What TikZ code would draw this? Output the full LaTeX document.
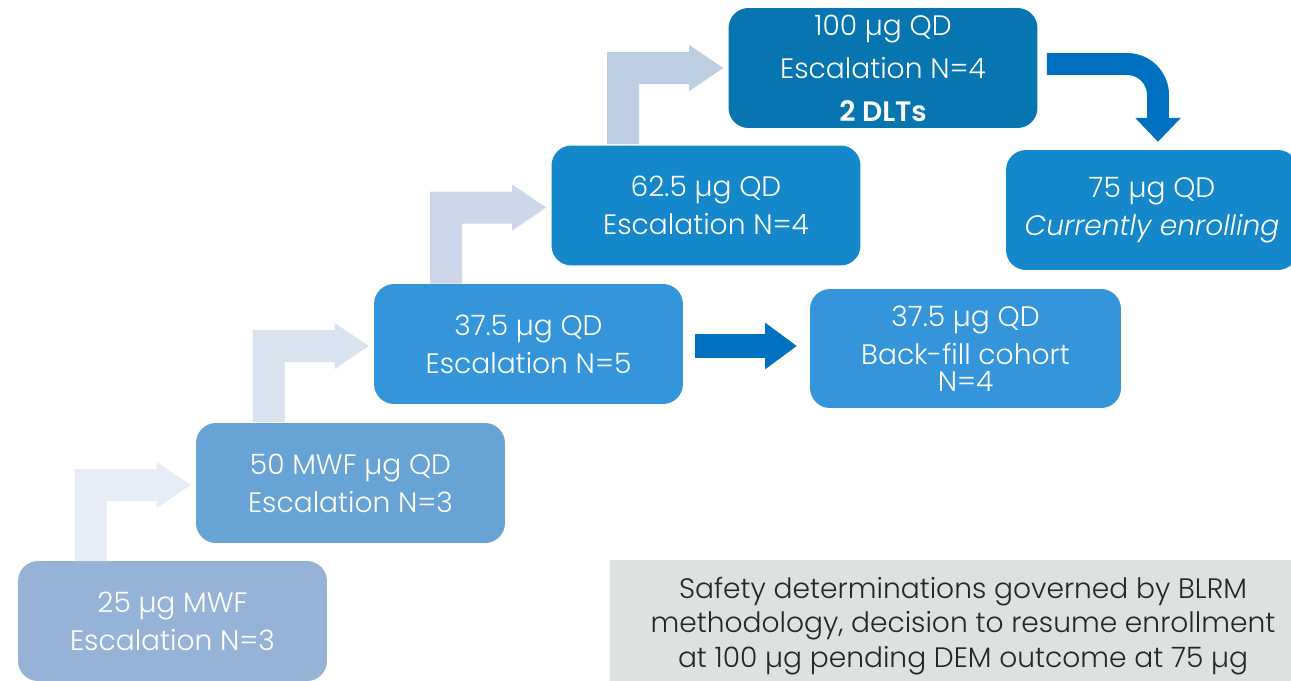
\documentclass[tikz,border=0pt]{standalone}
\usepackage{fontspec}
\setmainfont{Poppins}[UprightFont=* Light, BoldFont=* SemiBold, ItalicFont=* Light Italic]
\usetikzlibrary{calc,arrows.meta}
\definecolor{doseA}{HTML}{95B3D7}
\definecolor{doseB}{HTML}{67A3D4}
\definecolor{doseC}{HTML}{3595DA}
\definecolor{doseD}{HTML}{1588CC}
\definecolor{doseE}{HTML}{0776B0}
\definecolor{stepA}{HTML}{E6EDF6}
\definecolor{stepB}{HTML}{DAE3F0}
\definecolor{stepC}{HTML}{CCD8EA}
\definecolor{stepD}{HTML}{BDCDE2}
\definecolor{goblue}{HTML}{0070C0}
\definecolor{notegray}{HTML}{DCE2E0}
\definecolor{notetext}{HTML}{262626}
\tikzset{
  dose/.style={rounded corners=0.4cm, inner sep=0pt, minimum width=6.18cm, minimum height=2.4cm, text=white, align=center, font=\fontsize{16}{21.5}\selectfont},
  steparrow/.pic={\fill (0,0) -- (-34,-23) -- (-34,-16) -- (-116,-16) -- (-116,76) -- (-84,76) -- (-84,16) -- (-34,16) -- (-34,23) -- cycle;},
  fatarrow/.style={draw=goblue, line width=13.5pt, -{Triangle[width=26.6pt,length=18pt,line width=0pt]}},
}
\begin{document}
\begin{tikzpicture}[x=0.02cm,y=-0.02cm]
        \useasboundingbox (0,0) rectangle (1291,680);
        \clip (0,0) rectangle (1291,680);
        \fill [white] (0,0) rectangle (1291,680);
        \node [dose, fill=doseA, minimum height=2.4cm] (d25) at (172.5,621) {25 µg MWF\\Escalation N=3};
        \node [dose, fill=doseB] (d50) at (350.5,483) {50 MWF µg QD\\Escalation N=3};
        \node [dose, fill=doseC] (d375) at (528.5,344) {37.5 µg QD\\Escalation N=5};
        \node [dose, fill=doseD] (d625) at (706,205.5) {62.5 µg QD\\Escalation N=4};
        \node [dose, fill=doseE] (d100) at (883,68) {100 µg QD\\[3pt]Escalation N=4\\[3pt]\textbf{2 DLTs}};
        \node [dose, fill=doseD, minimum width=5.84cm] (d75) at (1152,210) {75 µg QD\\\textit{Currently enrolling}};
        \node [dose, fill=doseC, minimum width=6.22cm, minimum height=2.38cm] (bf) at (965.5,348.5) {37.5 µg QD\\Back-fill cohort\\[-6pt]N=4};
        \node [fill=notegray, text=notetext, align=center, inner sep=0pt, minimum width=14.12cm, minimum height=2.66cm, font=\fontsize{16}{19.5}\selectfont] (note) at (963,626) {Safety determinations governed by BLRM\\methodology, decision to resume enrollment\\at 100 µg pending DEM outcome at 75 µg};
        \pic [fill=stepA] at ($(d50.west)+(-5,2)$) {steparrow};
        \pic [fill=stepB] at ($(d375.west)+(-5,2)$) {steparrow};
        \pic [fill=stepC] at ($(d625.west)+(-5,2)$) {steparrow};
        \pic [fill=stepD] at ($(d100.west)+(-5,0)$) {steparrow};
        \draw [fatarrow, shorten <=6.8pt, shorten >=7.4pt] ($(d375.east)+(0,2)$) -- ($(d375.east -| bf.west)+(0,2)$);
        \draw [fatarrow, line width=12.5pt, -{Triangle[width=26pt,length=13.6pt,line width=0pt]}, rounded corners=0.62cm, shorten >=4.5pt] ($(d100.east)+(9,-4)$) -| ($(d75.north)+(6,0)$);
    \end{tikzpicture}
\end{document}
